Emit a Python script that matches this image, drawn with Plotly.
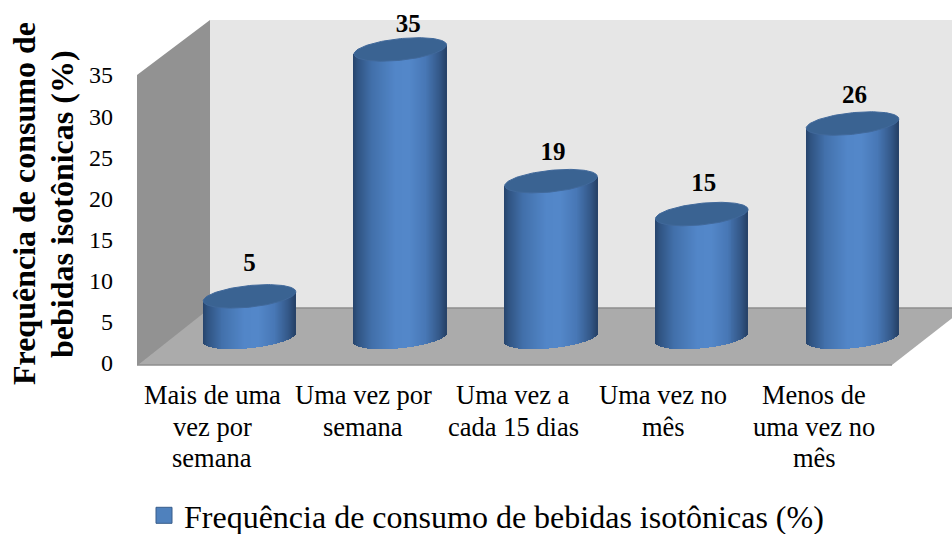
import numpy as np
import plotly.graph_objects as go

# ---- data ----
category_lines = [
    ["Mais de uma", "vez por", "semana"],
    ["Uma vez por", "semana"],
    ["Uma vez a", "cada 15 dias"],
    ["Uma vez no", "mês"],
    ["Menos de", "uma vez no", "mês"],
]
values = [5, 35, 19, 15, 26]
y_ticks = [0, 5, 10, 15, 20, 25, 30, 35]
series_name = "Frequência de consumo de bebidas isotônicas (%)"
y_title_lines = ["Frequência de consumo de", "bebidas isotônicas (%)"]

# ---- layout constants (pixels) ----
W, H = 952, 534
PLOT_L, PLOT_R, PLOT_T, PLOT_B = 137, 952, 0, 370
Y0_PX, PX_PER_UNIT = 363.0, 8.23
X0_PX, PX_PER_CAT = 249.5, 150.75
DEPTH_X, DEPTH_Y = 73.0, 55.0
HALF_W, CAP_B, CAP_S = 46.3, 10.8, 4.6
BASE_PX = 337.5
SERIF = "Liberation Serif"


def dx(px):
    return px / PX_PER_CAT


def dy(px):
    return px / PX_PER_UNIT


def xd(px):
    return (px - X0_PX) / PX_PER_CAT


def yd(px):
    return (Y0_PX - px) / PX_PER_UNIT


def paper_x(px):
    return (px - PLOT_L) / (PLOT_R - PLOT_L)


def paper_y(px):
    return (PLOT_B - px) / (PLOT_B - PLOT_T)


grad_stops = [
    (0.00, (38, 68, 108)), (0.05, (48, 84, 130)), (0.20, (66, 112, 170)),
    (0.45, (82, 134, 200)), (0.60, (84, 136, 202)), (0.78, (72, 120, 182)),
    (0.93, (52, 88, 136)), (1.00, (38, 66, 104)),
]


def grad(t):
    ts = [g[0] for g in grad_stops]
    c = [np.interp(t, ts, [g[1][i] for g in grad_stops]) for i in range(3)]
    return "rgb(%d,%d,%d)" % tuple(c)


fig = go.Figure()

# cylinder bodies as thin bars, driven by values
N = 93
base_c = yd(BASE_PX)
for i, v in enumerate(values):
    u = (np.arange(N) + 0.5) / N * 2 - 1
    xs = i + u * dx(HALF_W)
    low = base_c + dy(CAP_S) * u - dy(CAP_B) * np.sqrt(1 - u ** 2)
    top = base_c + v + dy(CAP_S) * u
    fig.add_trace(go.Bar(
        x=xs, y=top - low, base=low, width=dx(2 * HALF_W / N * 1.25),
        marker=dict(color=[grad((a + 1) / 2) for a in u], line=dict(width=0)),
        showlegend=False, hoverinfo="skip",
    ))

# caps
th = np.linspace(0, 2 * np.pi, 121)
for i, v in enumerate(values):
    fig.add_trace(go.Scatter(
        x=i + dx(HALF_W) * np.cos(th),
        y=base_c + v + dy(CAP_S) * np.cos(th) + dy(CAP_B) * np.sin(th),
        mode="lines", fill="toself", fillcolor="#3a6392",
        line=dict(color="#41699b", width=1),
        showlegend=False, hoverinfo="skip",
    ))

# data labels
label_dx = [0, 8, 2, 2, 2]
label_dy = [32, 24, 27, 29, 27]
fig.add_trace(go.Scatter(
    x=[i + dx(label_dx[i]) for i in range(len(values))],
    y=[base_c + v + dy(label_dy[i]) for i, v in enumerate(values)],
    mode="text", text=[str(v) for v in values], textposition="middle center",
    textfont=dict(family=SERIF, size=25, color="black"),
    texttemplate="<b>%{text}</b>", showlegend=False, hoverinfo="skip", cliponaxis=False,
))

# legend entry
fig.add_trace(go.Scatter(
    x=[None], y=[None], mode="markers", name=series_name,
    marker=dict(symbol="square", size=16, color="#4f81bd", line=dict(color="#385d8a", width=1)),
))

# chart walls and floor, derived from the axis frame
x_l, x_r = xd(PLOT_L), xd(PLOT_R) + 0.01
y_max = max(y_ticks)
wall_l = x_l + dx(DEPTH_X)
wall_b, wall_t = dy(DEPTH_Y), y_max + dy(DEPTH_Y)


def poly(pts, fill):
    d = "M" + " L".join(f"{a},{b}" for a, b in pts) + " Z"
    return dict(type="path", path=d, xref="x", yref="y", layer="below", fillcolor=fill,
                line=dict(color=fill, width=0))


floor_y = -dy(2)
front_r = xd(892)
shapes = [
    poly([(wall_l, wall_b), (x_r, wall_b), (x_r, wall_t), (wall_l, wall_t)], "#e6e6e6"),
    poly([(x_l, floor_y), (x_l + dx(2), floor_y), (wall_l + dx(2), wall_b), (wall_l, wall_b), (wall_l, wall_t), (x_l, y_max)], "#929292"),
    poly([(x_l + dx(1), floor_y), (wall_l, wall_b), (x_r, wall_b), (x_r, wall_b - dy(9)), (front_r, floor_y)], "#ababab"),
    dict(type="line", xref="x", yref="y", layer="below", x0=wall_l, x1=x_r, y0=wall_b, y1=wall_b,
         line=dict(color="#8e8e8e", width=1.5)),
    dict(type="line", xref="x", yref="y", layer="below", x0=x_l, x1=front_r, y0=floor_y, y1=floor_y,
         line=dict(color="#8e8e8e", width=1.5)),
]

annotations = []
line_px = [395, 426.5, 458]
cat_center_px = [212, 363, 513, 663, 814]
for i, lines in enumerate(category_lines):
    for j, t in enumerate(lines):
        annotations.append(dict(
            x=paper_x(cat_center_px[i]), y=paper_y(line_px[j]),
            xref="paper", yref="paper", text=t, showarrow=False,
            xanchor="center", yanchor="middle",
            font=dict(family=SERIF, size=26.5, color="black"),
        ))
for t, xp in zip(y_title_lines, [24, 62]):
    annotations.append(dict(
        x=paper_x(xp), y=paper_y(204), xref="paper", yref="paper", text=f"<b>{t}</b>",
        textangle=-90, showarrow=False, xanchor="center", yanchor="middle",
        font=dict(family=SERIF, size=32, color="black"),
    ))

fig.update_layout(
    width=W, height=H, autosize=False,
    paper_bgcolor="white", plot_bgcolor="white",
    margin=dict(l=PLOT_L, r=W - PLOT_R, t=PLOT_T, b=H - PLOT_B, pad=0),
    barmode="overlay", bargap=0,
    xaxis=dict(range=[xd(PLOT_L), xd(PLOT_R)], visible=False, fixedrange=True),
    yaxis=dict(range=[yd(PLOT_B), yd(PLOT_T)], tickvals=y_ticks, showgrid=False, zeroline=False,
               showline=False, ticks="", ticklabelstandoff=23, fixedrange=True,
               tickfont=dict(family=SERIF, size=24, color="black")),
    legend=dict(orientation="h", x=paper_x(144), y=1 - 488 / H, yref="container",
                xanchor="left", yanchor="top",
                font=dict(family=SERIF, size=32, color="black"), itemclick=False, itemdoubleclick=False,
                bgcolor="rgba(0,0,0,0)"),
    shapes=shapes, annotations=annotations, showlegend=True,
)
fig.write_html("out.html", config={"displayModeBar": False},
               post_script="document.body.style.margin='0';")
